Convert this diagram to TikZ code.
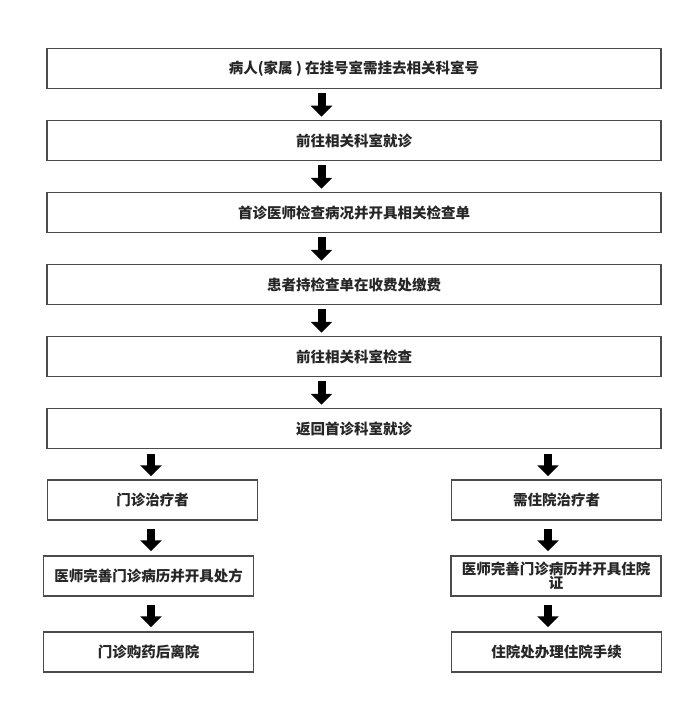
\documentclass[tikz,border=0pt]{standalone}
\usepackage{fontspec}
\setmainfont{Noto Sans CJK SC}
\usetikzlibrary{arrows.meta,calc}
\begin{document}
\begin{tikzpicture}[x=1pt,y=-1pt,
  box/.style={draw=black!70,line width=1.5pt,fill=white,inner sep=2pt,
    font=\fontsize{14.5pt}{17pt}\selectfont\bfseries,text=black!85,align=center},
  wide/.style={box,minimum width=614pt,minimum height=40pt},
  half/.style={box,minimum width=210pt,minimum height=40pt},
  blk/.style={line width=8pt,black,-{Triangle[length=11pt,width=21pt]}}]
\useasboundingbox (0,0) rectangle (693,706);
\node[wide] (b1) at (354,68.5) {病人(家属 ) 在挂号室需挂去相关科室号};
\node[wide] (b2) at (354,140.5) {前往相关科室就诊};
\node[wide] (b3) at (354,212.5) {首诊医师检查病况并开具相关检查单};
\node[wide] (b4) at (354,284.5) {患者持检查单在收费处缴费};
\node[wide] (b5) at (354,356.5) {前往相关科室检查};
\node[wide] (b6) at (354,428.5) {返回首诊科室就诊};
\node[half] (l1) at (152.5,500) {门诊治疗者};
\node[half] (l2) at (148.5,576) {医师完善门诊病历并开具处方};
\node[half] (l3) at (148.5,652) {门诊购药后离院};
\node[half] (r1) at (556.5,500) {需住院治疗者};
\node[half] (r2) at (556,576) {医师完善门诊病历并开具住院\\[-3pt]证};
\node[half] (r3) at (556.5,652) {住院处办理住院手续};
\foreach \a/\b in {b1/b2,b2/b3,b3/b4,b4/b5,b5/b6}{
  \draw[blk] ($(\a.south)+(-32.5,4)$) -- ($(\b.north)+(-32.5,-3)$);
}
\draw[blk] ($(l1.north)+(-1.5,-25)$) -- ($(l1.north)+(-1.5,-3)$);
\draw[blk] ($(l1.south)+(-1.5,8)$) -- ($(l2.north)+(2.5,-4)$);
\draw[blk] ($(l2.south)+(2.5,8)$) -- ($(l3.north)+(2.5,-4)$);
\draw[blk] ($(r1.north)+(-8.5,-25)$) -- ($(r1.north)+(-8.5,-3)$);
\draw[blk] ($(r1.south)+(-8.5,8)$) -- ($(r2.north)+(-8,-4)$);
\draw[blk] ($(r2.south)+(-8,8)$) -- ($(r3.north)+(-8.5,-4)$);
\end{tikzpicture}
\end{document}
